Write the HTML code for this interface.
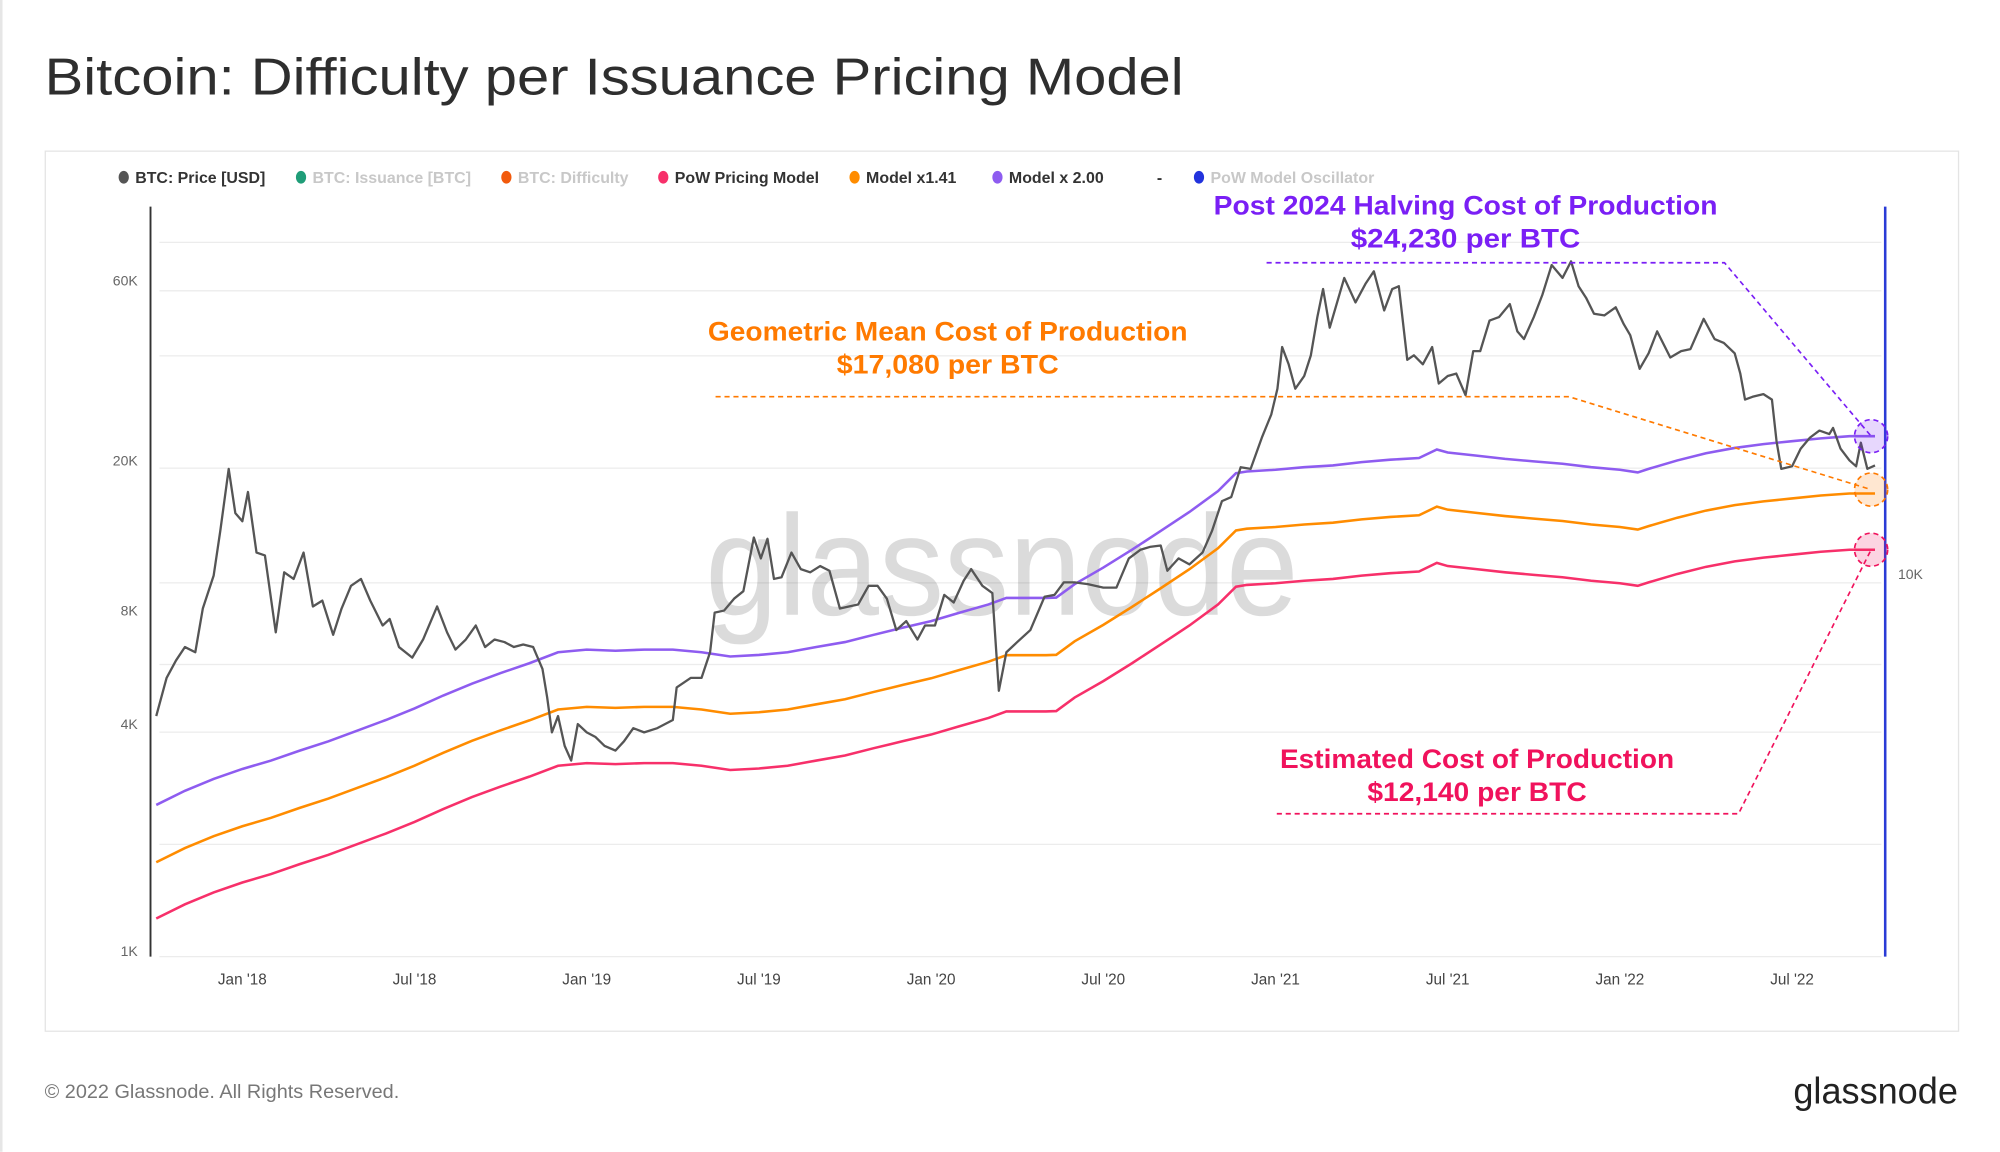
<!DOCTYPE html>
<html><head><meta charset="utf-8">
<style>
html,body{margin:0;padding:0;background:#fff;}
svg{display:block;font-family:"Liberation Sans",sans-serif;}
</style></head>
<body>
<svg id="chart" width="2000" height="1152" viewBox="0 0 1568 903.2" preserveAspectRatio="none" xmlns="http://www.w3.org/2000/svg">
<rect x="0" y="0" width="1568" height="903.2" fill="#fff"/>
<line x1="1" y1="0" x2="1" y2="903" stroke="#e6e6e6" stroke-width="2"/>
<text x="35" y="74" font-size="41" fill="#2e2e2e" textLength="893" lengthAdjust="spacingAndGlyphs">Bitcoin: Difficulty per Issuance Pricing Model</text>
<rect x="35.5" y="118.5" width="1500" height="690" fill="none" stroke="#e4e4e4" stroke-width="1"/>
<g id="grid"></g>
<text x="553" y="482" font-size="112" fill="#000" fill-opacity="0.14" textLength="465" lengthAdjust="spacingAndGlyphs">glassnode</text>
<g id="legend" font-size="12.5" font-weight="bold"></g>
<g id="series"></g>
<g id="annot"></g>
<text x="35" y="861" font-size="15" fill="#777" textLength="278" lengthAdjust="spacingAndGlyphs">© 2022 Glassnode. All Rights Reserved.</text>
<text x="1406" y="865" font-size="29" fill="#222" textLength="129" lengthAdjust="spacingAndGlyphs">glassnode</text>
</svg>
<script>
// ---- data ----
const priceDates = ["2017-10-01","2017-10-12","2017-10-22","2017-11-01","2017-11-12","2017-11-20","2017-12-01","2017-12-08","2017-12-17","2017-12-24","2018-01-01","2018-01-07","2018-01-16","2018-01-25","2018-02-06","2018-02-15","2018-02-25","2018-03-05","2018-03-15","2018-03-25","2018-04-06","2018-04-15","2018-04-25","2018-05-05","2018-05-15","2018-05-28","2018-06-05","2018-06-15","2018-06-29","2018-07-10","2018-07-25","2018-08-05","2018-08-14","2018-08-25","2018-09-05","2018-09-15","2018-09-25","2018-10-05","2018-10-15","2018-10-25","2018-11-05","2018-11-15","2018-11-20","2018-11-25","2018-12-01","2018-12-08","2018-12-15","2018-12-22","2019-01-01","2019-01-10","2019-01-20","2019-02-01","2019-02-10","2019-02-20","2019-03-01","2019-03-15","2019-04-01","2019-04-05","2019-04-20","2019-05-01","2019-05-10","2019-05-15","2019-05-25","2019-06-05","2019-06-15","2019-06-26","2019-07-03","2019-07-10","2019-07-17","2019-07-25","2019-08-05","2019-08-15","2019-08-25","2019-09-05","2019-09-15","2019-09-26","2019-10-05","2019-10-15","2019-10-26","2019-11-05","2019-11-15","2019-11-25","2019-12-05","2019-12-17","2019-12-25","2020-01-05","2020-01-15","2020-01-25","2020-02-05","2020-02-13","2020-02-25","2020-03-05","2020-03-12","2020-03-20","2020-04-01","2020-04-15","2020-04-30","2020-05-10","2020-05-20","2020-06-01","2020-06-15","2020-07-01","2020-07-15","2020-07-28","2020-08-10","2020-08-20","2020-09-01","2020-09-08","2020-09-20","2020-10-01","2020-10-15","2020-10-25","2020-11-05","2020-11-15","2020-11-25","2020-12-05","2020-12-17","2020-12-27","2021-01-03","2021-01-08","2021-01-15","2021-01-22","2021-02-01","2021-02-08","2021-02-15","2021-02-21","2021-02-28","2021-03-13","2021-03-25","2021-04-05","2021-04-14","2021-04-25","2021-05-03","2021-05-10","2021-05-19","2021-05-26","2021-06-05","2021-06-15","2021-06-22","2021-07-01","2021-07-10","2021-07-20","2021-07-28","2021-08-05","2021-08-15","2021-08-25","2021-09-06","2021-09-14","2021-09-21","2021-10-01","2021-10-10","2021-10-20","2021-11-01","2021-11-10","2021-11-18","2021-11-26","2021-12-04","2021-12-15","2021-12-27","2022-01-05","2022-01-12","2022-01-22","2022-02-01","2022-02-10","2022-02-24","2022-03-05","2022-03-15","2022-03-29","2022-04-10","2022-04-20","2022-05-01","2022-05-07","2022-05-12","2022-05-20","2022-06-01","2022-06-10","2022-06-15","2022-06-20","2022-07-01","2022-07-10","2022-07-20","2022-07-30","2022-08-10","2022-08-14","2022-08-22","2022-09-01","2022-09-08","2022-09-13","2022-09-20","2022-09-28"];
const priceValues = [4200,5300,5900,6400,6200,8100,9900,13000,19000,14500,13800,16500,11400,11200,7000,10100,9700,11400,8200,8500,6900,8100,9300,9700,8500,7300,7600,6400,6000,6700,8200,7000,6300,6700,7300,6400,6700,6600,6400,6500,6400,5600,4700,3800,4200,3500,3200,4000,3800,3700,3500,3400,3600,3900,3800,3900,4100,5000,5300,5300,6200,7900,8000,8600,9000,12500,11000,12400,9700,9800,11400,10300,10100,10500,10200,8100,8200,8300,9300,9300,8600,7100,7500,6700,7300,7300,8800,8400,9600,10300,9300,8900,4900,6200,6600,7100,8700,8800,9500,9500,9400,9200,9200,11000,11600,11800,11900,10200,11000,10600,11400,13000,15600,16000,19200,19000,23000,26500,31000,40000,36000,31000,33500,38000,48000,57000,45000,61000,52500,58800,63500,50000,57000,58000,37000,38000,36000,40000,32000,33500,34000,29800,39000,39000,47000,48000,52000,44000,42000,48000,55000,66000,61000,67500,58000,54000,49000,48500,51000,46000,43000,35000,38500,44000,37500,39000,39500,47500,42000,41000,38500,34000,29000,29500,30000,29000,22500,19000,19300,21500,23000,24000,23500,24400,21500,20000,19300,22300,19000,19400];
const modelDates = ["2017-10-01","2017-11-01","2017-12-01","2018-01-01","2018-02-01","2018-03-01","2018-04-01","2018-05-01","2018-06-01","2018-07-01","2018-08-01","2018-09-01","2018-10-01","2018-11-01","2018-12-01","2019-01-01","2019-02-01","2019-03-01","2019-04-01","2019-05-01","2019-06-01","2019-07-01","2019-08-01","2019-09-01","2019-10-01","2019-11-01","2019-12-01","2020-01-01","2020-02-01","2020-03-01","2020-03-20","2020-04-01","2020-05-01","2020-05-12","2020-06-01","2020-07-01","2020-08-01","2020-09-01","2020-10-01","2020-11-01","2020-11-20","2020-12-01","2021-01-01","2021-02-01","2021-03-01","2021-04-01","2021-05-01","2021-06-01","2021-06-20","2021-07-01","2021-08-01","2021-09-01","2021-10-01","2021-11-01","2021-12-01","2022-01-01","2022-01-20","2022-02-01","2022-03-01","2022-04-01","2022-05-01","2022-06-01","2022-07-01","2022-08-01","2022-09-01","2022-09-28"];
const powModel = [1220,1330,1430,1520,1600,1700,1800,1920,2050,2200,2380,2560,2730,2900,3100,3150,3130,3150,3150,3100,3020,3050,3100,3200,3300,3450,3600,3750,3950,4150,4320,4320,4320,4330,4700,5200,5800,6500,7300,8300,9250,9350,9450,9600,9700,9900,10050,10150,10700,10500,10300,10100,9950,9800,9600,9450,9300,9500,10000,10450,10800,11050,11250,11450,11600,11600];
const modelMult141 = 1.41;
const modelMult200 = 2.00;
const yTickValues = [1000,4000,8000,20000,60000];
const yTickLabels = ["1K","4K","8K","20K","60K"];
const xTickDates = ["2018-01-01","2018-07-01","2019-01-01","2019-07-01","2020-01-01","2020-07-01","2021-01-01","2021-07-01","2022-01-01","2022-07-01"];
const xTickLabels = ["Jan '18","Jul '18","Jan '19","Jul '19","Jan '20","Jul '20","Jan '21","Jul '21","Jan '22","Jul '22"];
const gridYs = [190,228,279,367,457,521,574,662,750];

// ---- scales ----
const NS="http://www.w3.org/2000/svg";
function monthIdx(d){const p=d.split("-").map(Number);return (p[0]-2018)*12+(p[1]-1)+(p[2]-1)/30.44;}
function xScale(d){return 190+monthIdx(d)*22.5;}
function yScale(v){return 220+(Math.log10(60000)-Math.log10(v))*295.6;}
function mk(tag,attrs,parent){const e=document.createElementNS(NS,tag);for(const k in attrs)e.setAttribute(k,attrs[k]);parent.appendChild(e);return e;}

const grid=document.getElementById("grid");
gridYs.forEach(y=>{
  const l=mk("line",{x1:125,x2:1475,y1:y,y2:y,stroke:"#ececec","stroke-width":1},grid);
  
  
});
const ax=mk("line",{x1:118,x2:118,y1:162,y2:750,stroke:"#333","stroke-width":1.5},grid);


const rax=mk("line",{x1:1478,x2:1478,y1:162,y2:750,stroke:"#2a3bd6","stroke-width":2},grid);


yTickValues.forEach((v,i)=>{
  const t=mk("text",{x:108,y:yScale(v)+4,"font-size":11,fill:"#666","text-anchor":"end"},grid);
  t.textContent=yTickLabels[i];
  
  
});
const r10=mk("text",{x:1488,y:454,"font-size":11,fill:"#666"},grid);
r10.textContent="10K";


xTickDates.forEach((d,i)=>{
  const t=mk("text",{x:xScale(d),y:772,"font-size":12,fill:"#444","text-anchor":"middle"},grid);
  t.textContent=xTickLabels[i];
  
  
});

// legend
const legend=document.getElementById("legend");
const legItems=[[97,"#555","BTC: Price [USD]","#333"],[236,"#1f9d78","BTC: Issuance [BTC]","#c8c8c8"],[397,"#f25a0c","BTC: Difficulty","#c8c8c8"],[520,"#f7306a","PoW Pricing Model","#333"],[670,"#ff8c00","Model x1.41","#333"],[782,"#8e5cf0","Model x 2.00","#333"],[940,"#2233dd","PoW Model Oscillator","#c8c8c8"]];
legItems.forEach(it=>{
  const g=mk("g",{},legend);
  
  
  mk("ellipse",{cx:it[0],cy:139,rx:4,ry:5,fill:it[1]},g);
  const t=mk("text",{x:it[0]+9,y:143.5,fill:it[3]},g);t.textContent=it[2];
});
const dash=mk("text",{x:907,y:143.5,fill:"#333"},legend);dash.textContent="-";

// series
const series=document.getElementById("series");
function linePath(dates,vals,mult){return dates.map((d,i)=>(i?"L":"M")+xScale(d).toFixed(1)+","+yScale(vals[i]*mult).toFixed(1)).join("");}
const sPurple=mk("path",{d:linePath(modelDates,powModel,modelMult200),fill:"none",stroke:"#8e5cf0","stroke-width":2},series);


const sOrange=mk("path",{d:linePath(modelDates,powModel,modelMult141),fill:"none",stroke:"#ff8c00","stroke-width":2},series);


const sRed=mk("path",{d:linePath(modelDates,powModel,1),fill:"none",stroke:"#f7306a","stroke-width":2},series);


const sPrice=mk("path",{d:linePath(priceDates,priceValues,1),fill:"none",stroke:"#555","stroke-width":1.8,"stroke-linejoin":"round"},series);



// annotations
const an=document.getElementById("annot");
function txt(x,y,s,c,w){const t=mk("text",{x:x-w/2,y:y,"font-size":21,"font-weight":"bold",fill:c,textLength:w,lengthAdjust:"spacingAndGlyphs"},an);t.textContent=s;return t;}
function ann(lines,c,yLine,x1,x2,cx,cy,name){
  const t1=txt(lines[0],lines[1],lines[2],c,lines[4]);
  
  
  const t2=txt(lines[0],lines[1]+26,lines[3],c,lines[5]);
  
  
  const p=mk("path",{d:`M${x1},${yLine}L${x2},${yLine}L${cx},${cy}`,fill:"none",stroke:c,"stroke-width":1.3,"stroke-dasharray":"4,3"},an);
  
  
  const ci=mk("circle",{cx:cx,cy:cy,r:13,fill:c,"fill-opacity":0.18,stroke:c,"stroke-width":1.3,"stroke-dasharray":"4,3"},an);
  
  
}
const lastM=modelDates[modelDates.length-1], lastV=powModel[powModel.length-1];
const ex=xScale(lastM)-3;
ann([1149,168,"Post 2024 Halving Cost of Production","$24,230 per BTC",395,180],"#7a1ff5",206,993,1352,ex,yScale(lastV*modelMult200),"post-halving-annotation");
ann([743,267,"Geometric Mean Cost of Production","$17,080 per BTC",376,174],"#ff7a00",311,561,1230,ex,yScale(lastV*modelMult141)-3,"geometric-mean-annotation");
ann([1158,602,"Estimated Cost of Production","$12,140 per BTC",309,172],"#f0125c",638,1001,1363,ex,yScale(lastV),"estimated-cost-annotation");
</script>
</body></html>
